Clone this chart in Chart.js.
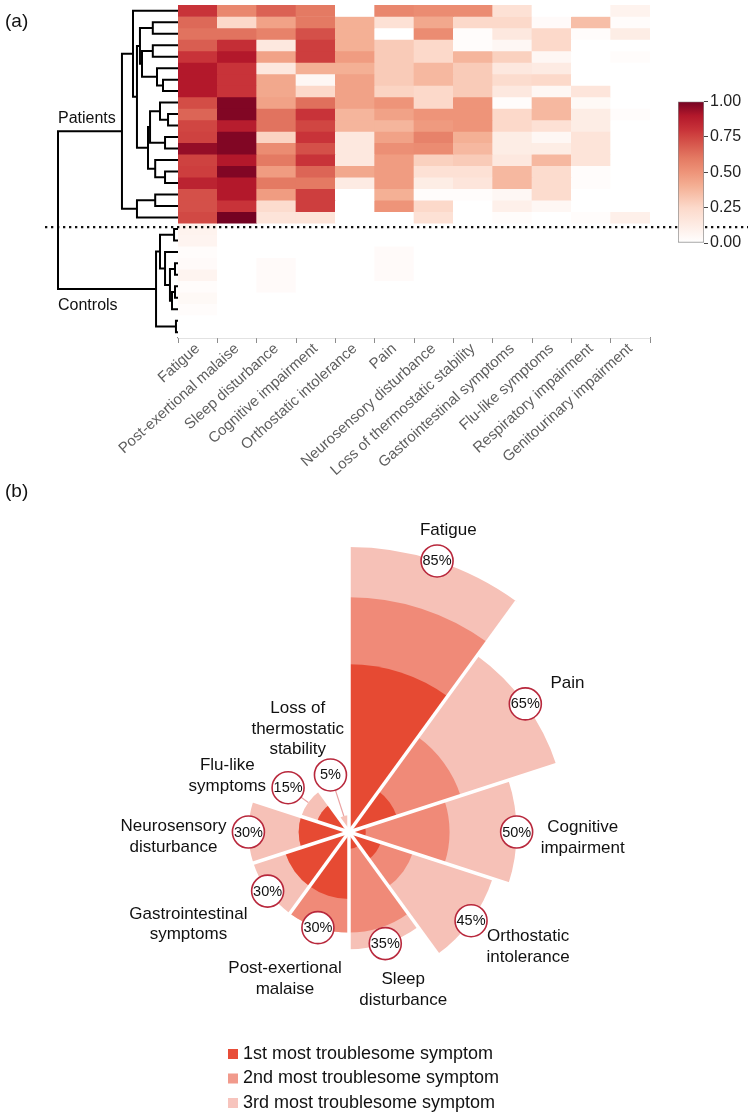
<!DOCTYPE html>
<html><head><meta charset="utf-8">
<script src="https://cdn.jsdelivr.net/npm/chart.js@4.4.1/dist/chart.umd.min.js"></script>
<style>
html,body{margin:0;padding:0;background:#fff;}
body{width:750px;height:1119px;position:relative;overflow:hidden;}
.c{position:absolute;}
</style></head><body>
<div class="c" style="left:0;top:0;width:750px;height:490px"><canvas id="heat"></canvas></div>
<div class="c" style="left:0;top:0;width:180px;height:345px"><canvas id="dendro"></canvas></div>
<div class="c" style="left:660px;top:90px;width:90px;height:165px"><canvas id="cbar"></canvas></div>
<div class="c" style="left:0;top:480px;width:750px;height:639px"><canvas id="polar"></canvas></div>
<script>
// ---------- DATA ----------
const symptoms = ['Fatigue','Post-exertional malaise','Sleep disturbance','Cognitive impairment','Orthostatic intolerance','Pain','Neurosensory disturbance','Loss of thermostatic stability','Gastrointestinal symptoms','Flu-like symptoms','Respiratory impairment','Genitourinary impairment'];

const patientRows = [
 [0.80,0.55,0.67,0.60,0.00,0.55,0.53,0.53,0.20,0.00,0.00,0.08],
 [0.65,0.25,0.45,0.60,0.40,0.20,0.43,0.25,0.25,0.03,0.35,0.02],
 [0.62,0.62,0.57,0.72,0.40,0.00,0.53,0.02,0.15,0.25,0.02,0.12],
 [0.68,0.82,0.15,0.77,0.40,0.30,0.25,0.02,0.05,0.25,0.00,0.00],
 [0.80,0.90,0.45,0.77,0.47,0.30,0.25,0.38,0.28,0.05,0.00,0.02],
 [0.90,0.80,0.15,0.40,0.40,0.30,0.37,0.30,0.15,0.13,0.00,0.00],
 [0.90,0.80,0.43,0.05,0.45,0.30,0.37,0.30,0.23,0.25,0.00,0.00],
 [0.90,0.80,0.43,0.25,0.45,0.27,0.25,0.30,0.15,0.05,0.17,0.00],
 [0.73,0.98,0.45,0.63,0.45,0.50,0.25,0.50,0.02,0.37,0.04,0.00],
 [0.66,0.98,0.62,0.80,0.38,0.45,0.50,0.50,0.25,0.37,0.12,0.02],
 [0.75,0.88,0.62,0.75,0.38,0.38,0.48,0.50,0.25,0.20,0.12,0.00],
 [0.76,0.98,0.27,0.80,0.15,0.45,0.57,0.40,0.12,0.05,0.18,0.00],
 [0.95,0.98,0.53,0.72,0.15,0.52,0.53,0.37,0.12,0.12,0.18,0.00],
 [0.76,0.90,0.60,0.80,0.15,0.47,0.28,0.30,0.15,0.37,0.18,0.00],
 [0.77,0.98,0.47,0.66,0.43,0.47,0.20,0.20,0.37,0.23,0.02,0.00],
 [0.86,0.90,0.60,0.60,0.13,0.47,0.12,0.17,0.37,0.23,0.02,0.00],
 [0.72,0.90,0.47,0.77,0.00,0.40,0.02,0.02,0.05,0.23,0.00,0.00],
 [0.72,0.80,0.23,0.77,0.00,0.50,0.25,0.00,0.10,0.05,0.00,0.00],
 [0.74,1.00,0.18,0.18,0.00,0.00,0.20,0.00,0.02,0.00,0.02,0.10]
];
const controlRows = [
 [0.08,0,0,0,0,0,0,0,0,0,0,0],
 [0.07,0,0,0,0,0,0,0,0,0,0,0],
 [0.02,0,0,0,0,0.03,0,0,0,0,0,0],
 [0.03,0,0.03,0,0,0.03,0,0,0,0,0,0],
 [0.07,0,0.03,0,0,0.03,0,0,0,0,0,0],
 [0.02,0,0.03,0,0,0,0,0,0,0,0,0],
 [0.04,0,0,0,0,0,0,0,0,0,0,0],
 [0.02,0,0,0,0,0,0,0,0,0,0,0],
 [0,0,0,0,0,0,0,0,0,0,0,0],
 [0,0,0,0,0,0,0,0,0,0,0,0]
];
// dendrogram merges: [childA, childB, height]; leaves 0..28, new nodes numbered from 29
const dendroMerges = [
 [1,2,0.21],[3,4,0.21],[6,7,0.125],[5,31,0.175],[30,32,0.30],[29,33,0.317],
 [9,10,0.083],[8,35,0.15],[11,12,0.108],[36,37,0.233],[14,15,0.108],[13,39,0.19],
 [38,40,0.25],[34,41,0.342],[0,42,0.375],[16,17,0.19],[44,18,0.342],[43,45,0.467],
 [19,20,0.033],[22,23,0.025],[24,25,0.025],[49,26,0.05],[48,50,0.067],[21,51,0.108],
 [47,52,0.15],[27,28,0.017],[53,54,0.183],[46,55,1.0]
];
const groupNames = ['Patients','Controls'];
const colorbarTicks = [0,0.25,0.5,0.75,1];

const polarLabels = [['Fatigue'],['Pain'],['Cognitive','impairment'],['Orthostatic','intolerance'],['Sleep','disturbance'],['Post-exertional','malaise'],['Gastrointestinal','symptoms'],['Neurosensory','disturbance'],['Flu-like','symptoms'],['Loss of','thermostatic','stability']];
const rank1 = [50,15,5,10,5,20,20,15,10,0];
const rank2 = [20,20,25,10,25,10,0,0,0,0];
const rank3 = [15,30,20,25,5,0,10,15,5,5];
const rankNames = ['1st most troublesome symptom','2nd most troublesome symptom','3rd most troublesome symptom'];

// ---------- STYLE ----------
const FONT = '"Liberation Sans", Arial, Helvetica, sans-serif';
Chart.defaults.font.family = FONT;
const colorStops = [[0,'#ffffff'],[0.15,'#fde8df'],[0.25,'#fcd9ca'],[0.4,'#f4b095'],[0.5,'#ee9479'],[0.6,'#e47a63'],[0.75,'#d04642'],[0.8,'#c83339'],[0.9,'#b3182b'],[1,'#740222']];
const rankColors = ['#e64a33','#f08a78','#f6c1b7'];
const legendColors = ['#e84d38','#f19a8c','#f7c4bd'];
// small hand-placement nudges for the wedge captions (dx, dy in px)
const captionNudge = [[-5,2],[9,0],[0,6],[4,0],[-3,4],[-8,9],[-12,7],[2,5],[-10,14],[-11,6]];

function hexToRgb(h){return [parseInt(h.slice(1,3),16),parseInt(h.slice(3,5),16),parseInt(h.slice(5,7),16)];}
function colorFor(v){
  v = Math.max(0, Math.min(1, v));
  for (let k = 1; k < colorStops.length; k++) {
    const [t0,c0] = colorStops[k-1], [t1,c1] = colorStops[k];
    if (v <= t1) {
      const f = (v - t0) / (t1 - t0), a = hexToRgb(c0), b = hexToRgb(c1);
      return 'rgb(' + a.map((x,i)=>Math.round(x + (b[i]-x)*f)).join(',') + ')';
    }
  }
  return colorStops[colorStops.length-1][1];
}

// ---------- HEATMAP ----------
const allRows = patientRows.concat(controlRows);
const nRows = allRows.length;
const heatDatasets = allRows.map((row, i) => ({
  data: row.map(() => [i, i + 1]),
  backgroundColor: row.map(v => colorFor(v)),
  borderWidth: 0, barPercentage: 1, categoryPercentage: 1, grouped: false
}));
const separator = {
  id: 'separator',
  afterDraw(chart) {
    const ctx = chart.ctx, y = chart.scales.y.getPixelForValue(patientRows.length) + 4;
    ctx.save(); ctx.setLineDash([2.3, 3.7]); ctx.lineWidth = 2.4; ctx.strokeStyle = '#111';
    ctx.beginPath(); ctx.moveTo(45, y); ctx.lineTo(748, y); ctx.stroke(); ctx.restore();
  }
};
new Chart(document.getElementById('heat'), {
  type: 'bar',
  data: { labels: symptoms, datasets: heatDatasets },
  options: {
    responsive: true, maintainAspectRatio: false, animation: false,
    layout: { padding: { left: 178, right: 100, top: 5, bottom: 0 } },
    plugins: { legend: { display: false }, tooltip: { enabled: false } },
    scales: {
      x: { type: 'category', offset: true,
        grid: { display: true, drawOnChartArea: false, drawTicks: true, tickLength: 5, color: '#8c8c8c' },
        border: { display: true, color: '#8c8c8c', width: 1.2 },
        ticks: { autoSkip: false, maxRotation: 42, minRotation: 42, color: '#5e5e5e', font: { size: 15 }, padding: -3 },
        afterFit: s => { s.height = 152; } },
      y: { type: 'linear', min: 0, max: nRows, reverse: true, display: false }
    }
  },
  plugins: [separator]
});

// ---------- DENDROGRAM ----------
const dNodes = [];
for (let i = 0; i < nRows; i++) dNodes.push({ y: i + 0.5, h: 0 });
const dSegs = [];
dendroMerges.forEach(([a, b, h]) => {
  const A = dNodes[a], B = dNodes[b];
  dSegs.push([{x: A.h, y: A.y}, {x: h, y: A.y}, {x: h, y: B.y}, {x: B.h, y: B.y}]);
  dNodes.push({ y: (A.y + B.y) / 2, h });
});
const rootMerge = dendroMerges[dendroMerges.length - 1];
const dendroText = {
  id: 'dendroText',
  afterDraw(chart) {
    const ctx = chart.ctx, xs = chart.scales.x, ys = chart.scales.y;
    ctx.save();
    ctx.fillStyle = '#111'; ctx.textBaseline = 'middle'; ctx.textAlign = 'left';
    ctx.font = '19px ' + FONT; ctx.fillText('(a)', 5, 22);
    ctx.font = '16px ' + FONT;
    const x0 = xs.getPixelForValue(rootMerge[2]);
    ctx.fillText(groupNames[0], x0, ys.getPixelForValue(dNodes[rootMerge[0]].y) - 13);
    ctx.fillText(groupNames[1], x0, ys.getPixelForValue(dNodes[rootMerge[1]].y) + 17);
    ctx.restore();
  }
};
new Chart(document.getElementById('dendro'), {
  type: 'scatter',
  data: { datasets: dSegs.map(seg => ({ data: seg, showLine: true, pointRadius: 0, borderColor: '#000', borderWidth: 2, tension: 0, clip: false, borderJoinStyle: 'miter' })) },
  options: {
    responsive: true, maintainAspectRatio: false, animation: false,
    layout: { padding: { left: 58, right: 2, top: 5, bottom: 7 } },
    plugins: { legend: { display: false }, tooltip: { enabled: false } },
    scales: {
      x: { type: 'linear', min: 0, max: 1, reverse: true, display: false },
      y: { type: 'linear', min: 0, max: nRows, reverse: true, display: false }
    }
  },
  plugins: [dendroText]
});

// ---------- COLORBAR ----------
new Chart(document.getElementById('cbar'), {
  type: 'bar',
  data: { labels: [''], datasets: [{
    data: [[colorbarTicks[0], colorbarTicks[colorbarTicks.length-1]]],
    backgroundColor: (c) => {
      const a = c.chart.chartArea; if (!a) return '#fff';
      const g = c.chart.ctx.createLinearGradient(0, a.bottom, 0, a.top);
      colorStops.forEach(([t, col]) => g.addColorStop(t, col));
      return g;
    },
    borderColor: '#8a8a8a', borderWidth: 1, borderSkipped: false, barPercentage: 1, categoryPercentage: 1
  }] },
  options: {
    responsive: true, maintainAspectRatio: false, animation: false,
    layout: { padding: { left: 18, right: 0, top: 10, bottom: 12 } },
    plugins: { legend: { display: false }, tooltip: { enabled: false } },
    scales: {
      x: { display: false },
      y: { position: 'right', min: 0, max: 1,
        afterBuildTicks: s => { s.ticks = colorbarTicks.map(v => ({ value: v })); },
        ticks: { callback: v => Number(v).toFixed(2), color: '#222', font: { size: 16 }, padding: 2 },
        grid: { drawOnChartArea: false, tickLength: 4, color: '#444' },
        border: { display: false },
        afterFit: s => { s.width = 46; } }
    }
  }
});

// ---------- POLAR ----------
const cum1 = rank1.map(v => v);
const cum2 = rank1.map((v, i) => v + rank2[i]);
const totals = rank1.map((v, i) => v + rank2[i] + rank3[i]);
const maxTotal = Math.max(...totals);
const polarDecor = {
  id: 'polarDecor',
  afterDraw(chart) {
    const ctx = chart.ctx, s = chart.scales.r, n = polarLabels.length, step = 2 * Math.PI / n;
    ctx.save();
    totals.forEach((t, i) => {
      const ang = s.getIndexAngle(i) + step / 2 - Math.PI / 2;
      const ux = Math.cos(ang), uy = Math.sin(ang);
      const rv = s.getDistanceFromCenterForValue(t);
      const rc = t < 20 ? Math.max(rv + 25, 60) : rv;
      const cx = s.xCenter + ux * rc, cy = s.yCenter + uy * rc;
      const R = 16;
      if (rc > rv) {
        ctx.strokeStyle = '#eaa3a3'; ctx.lineWidth = 1.2;
        ctx.beginPath(); ctx.moveTo(s.xCenter + ux * rv, s.yCenter + uy * rv);
        ctx.lineTo(s.xCenter + ux * (rc - R), s.yCenter + uy * (rc - R)); ctx.stroke();
      }
      ctx.beginPath(); ctx.arc(cx, cy, R, 0, 2 * Math.PI);
      ctx.fillStyle = '#fff'; ctx.fill();
      ctx.strokeStyle = '#b8283c'; ctx.lineWidth = 1.6; ctx.stroke();
      ctx.fillStyle = '#111'; ctx.font = '14.5px ' + FONT; ctx.textAlign = 'center'; ctx.textBaseline = 'middle';
      ctx.fillText(t + '%', cx, cy + 0.5);
      // caption
      const lines = polarLabels[i], lh = 20.5;
      ctx.font = '17px ' + FONT;
      const w = Math.max(...lines.map(l => ctx.measureText(l).width));
      const h = lines.length * lh;
      const gap = R + 8;
      const px = cx + ux * gap, py = cy + uy * gap;
      const bx = px + ux * w / 2 + captionNudge[i][0], by = py + uy * h / 2 + captionNudge[i][1];
      lines.forEach((l, k) => ctx.fillText(l, bx, by - h / 2 + lh / 2 + k * lh));
    });
    // legend
    ctx.font = '18px ' + FONT; ctx.textAlign = 'left'; ctx.textBaseline = 'middle';
    chart.data.datasets.forEach((d, k) => {
      const y = 574 + k * 24.5;
      ctx.fillStyle = legendColors[k]; ctx.fillRect(228, y - 5, 10, 10);
      ctx.fillStyle = '#111'; ctx.fillText(d.label, 243, y);
    });
    ctx.font = '19px ' + FONT; ctx.fillText('(b)', 5, 12);
    ctx.restore();
  }
};
new Chart(document.getElementById('polar'), {
  type: 'polarArea',
  data: {
    labels: polarLabels.map(l => l.join(' ')),
    datasets: [
      { label: rankNames[0], data: cum1, backgroundColor: rankColors[0], borderWidth: 0 },
      { label: rankNames[1], data: cum2, backgroundColor: rankColors[1], borderWidth: 0 },
      { label: rankNames[2], data: totals, backgroundColor: rankColors[2], borderWidth: 0 }
    ]
  },
  options: {
    responsive: true, maintainAspectRatio: false, animation: false,
    layout: { padding: { left: 64, right: 116, top: 67, bottom: 2 } },
    plugins: { legend: { display: false }, tooltip: { enabled: false } },
    scales: { r: { min: 0, max: maxTotal, startAngle: 0,
      ticks: { display: false, z: 1 }, grid: { display: false, z: 1 },
      angleLines: { display: true, color: '#ffffff', lineWidth: 3.5 },
      pointLabels: { display: false } } }
  },
  plugins: [polarDecor]
});
</script>
</body></html>
